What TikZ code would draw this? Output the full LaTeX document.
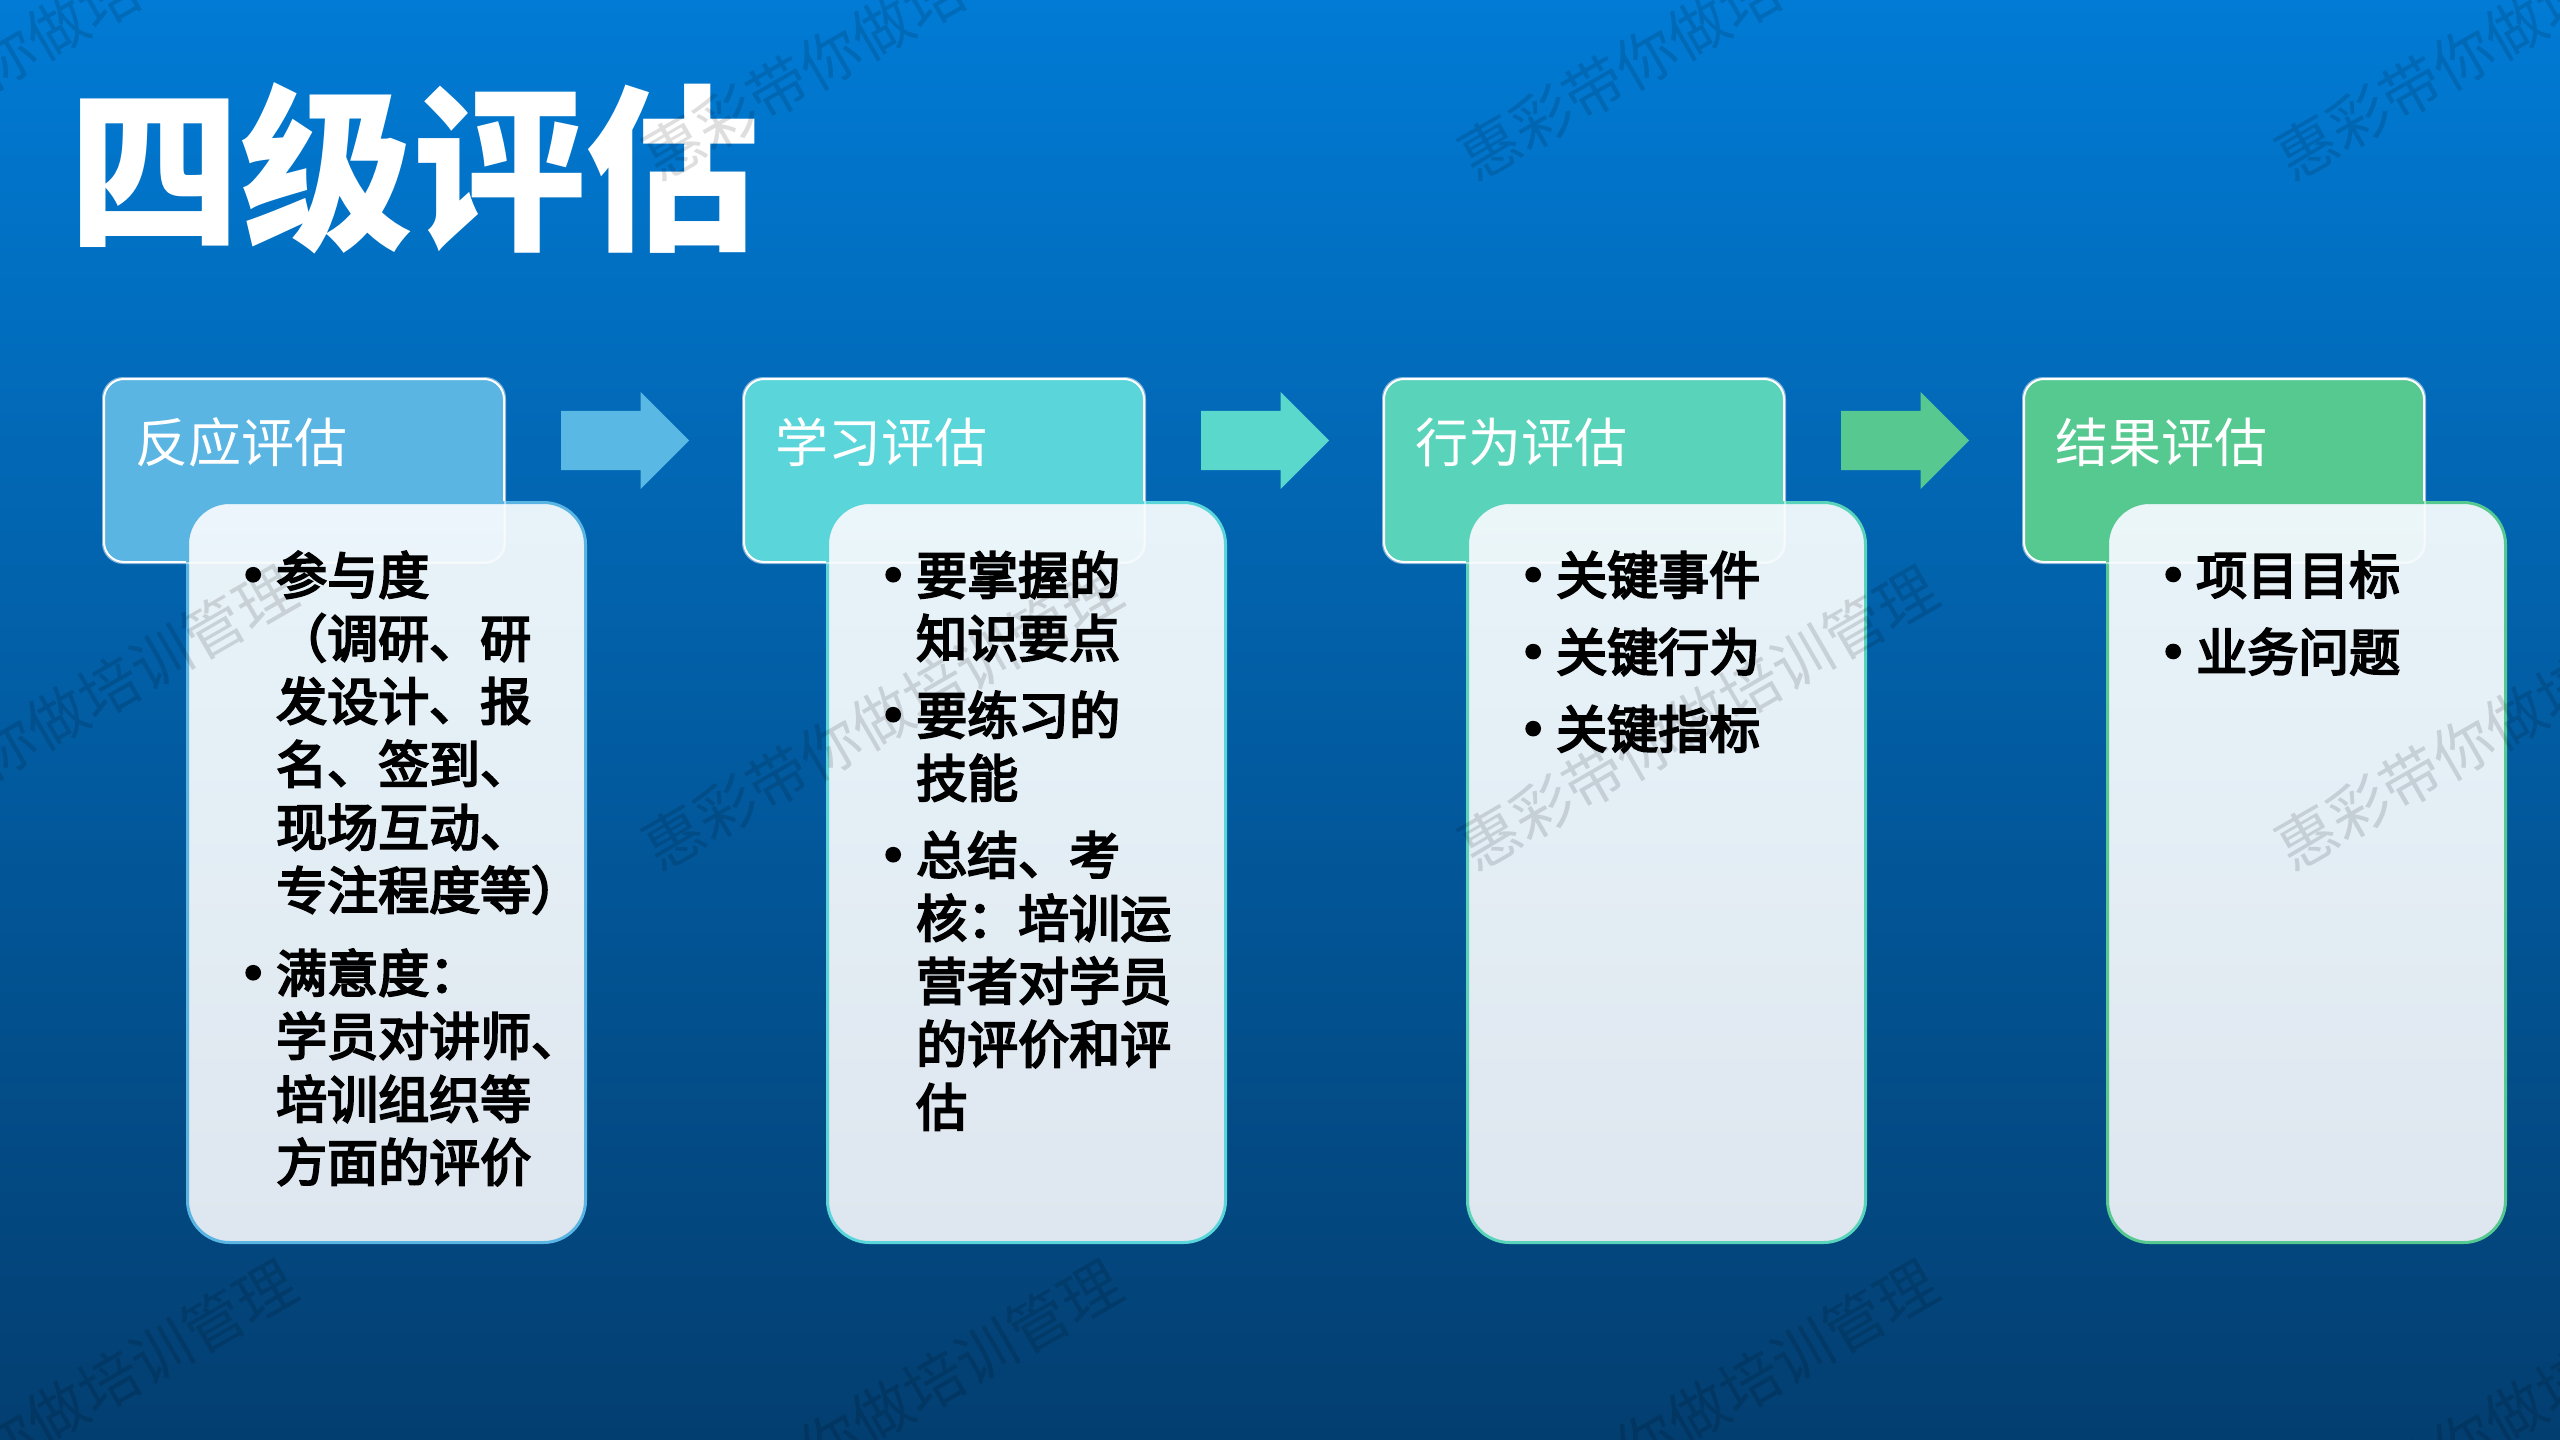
\documentclass[tikz,border=0pt]{standalone}
\usepackage{fontspec}
\setmainfont{Noto Sans CJK SC}
\newfontfamily\midfont{Noto Sans CJK SC}[FakeBold=4]
\usetikzlibrary{shapes.arrows,calc,positioning}

\definecolor{bgtop}{HTML}{017BD5}
\definecolor{bgmid}{HTML}{0266B1}
\definecolor{bgbot}{HTML}{033E70}
\definecolor{lvlA}{HTML}{5AB5E3}
\definecolor{lvlB}{HTML}{5AD5DA}
\definecolor{lvlC}{HTML}{5AD3BB}
\definecolor{lvlD}{HTML}{56C991}
\definecolor{arrA}{HTML}{5AB8E4}
\definecolor{arrB}{HTML}{5AD8CC}
\definecolor{arrC}{HTML}{57C990}
\definecolor{paneltop}{HTML}{F0F8FC}
\definecolor{panelbot}{HTML}{E6ECF3}

\newcommand\itm{\leavevmode\llap{\makebox[0pt][c]{\fontsize{62}{63}\selectfont\raisebox{-4pt}{•}}\hspace{23pt}}}

\tikzset{
  head/.style={draw=white, line width=2pt, rounded corners=20pt, minimum width=400pt,
    minimum height=183pt, anchor=north west, inner sep=0pt},
  panel/.style={draw=#1, line width=3pt, rounded corners=42pt, minimum width=398pt,
    minimum height=740pt, anchor=north west, inner sep=0pt,
    top color=paneltop, bottom color=panelbot, fill opacity=0.97},
  headtxt/.style={text=white, font=\fontsize{53}{60}\selectfont, anchor=west, inner sep=0pt},
  bodytxt/.style={font=\midfont\fontsize{51}{63}\selectfont, align=left, anchor=north west, inner sep=0pt},
  blockarrow/.style={single arrow, single arrow head extend=19pt, single arrow tip angle=90,
    minimum height=128pt, minimum width=0pt, inner xsep=0pt, inner ysep=29.5pt, draw=none, anchor=tail},
  wmark/.style={rotate=30, text=black, opacity=0.13, font=\fontsize{60}{60}\selectfont}
}

\begin{document}
\begin{tikzpicture}[x=1pt,y=-1pt]
    \useasboundingbox (0,0) rectangle (2560,1440);
    \shade[top color=bgtop, middle color=bgmid, bottom color=bgbot] (0,0) rectangle (2560,1440);

    % title
    \node[text=white, font=\bfseries\fontsize{178}{180}\selectfont, xscale=0.97, anchor=west, inner sep=0pt] (ttl) at (68,168) {四级评估};

    % header boxes
    \node[head, fill=lvlA] (h1) at (103,378) {};
    \node[head, fill=lvlB] (h2) at (743,378) {};
    \node[head, fill=lvlC] (h3) at (1383,378) {};
    \node[head, fill=lvlD] (h4) at (2023,378) {};

    % panels
    \node[panel=lvlA] (b1) at ($(h1.north west)+(83,123)$) {};
    \node[panel=lvlB] (b2) at ($(h2.north west)+(83,123)$) {};
    \node[panel=lvlC] (b3) at ($(h3.north west)+(83,123)$) {};
    \node[panel=lvlD] (b4) at ($(h4.north west)+(83,123)$) {};
    \foreach \h in {h1,h2,h3,h4}
        \draw[white, line width=2pt, rounded corners=20pt, opacity=0.5] (\h.north west) rectangle (\h.south east);

    \node[headtxt] (t1) at ($(h1.north west)+(32,64)$) {反应评估};
    \node[headtxt] (t2) at ($(h2.north west)+(32,64)$) {学习评估};
    \node[headtxt] (t3) at ($(h3.north west)+(32,64)$) {行为评估};
    \node[headtxt] (t4) at ($(h4.north west)+(32,64)$) {结果评估};

    % block arrows
    \node[blockarrow, fill=arrA] (a1) at ($(h1.east)+(56,-30)$) {};
    \node[blockarrow, fill=arrB] (a2) at ($(h2.east)+(56,-30)$) {};
    \node[blockarrow, fill=arrC] (a3) at ($(h3.east)+(56,-30)$) {};

    % panel texts
    \node[bodytxt] (p1) at ($(b1.north west)+(90,50)$) {\itm 参与度\\（调研、研\\发设计、报\\名、签到、\\现场互动、\\专注程度等）\\[20pt]\itm 满意度：\\学员对讲师、\\培训组织等\\方面的评价};
    \node[bodytxt] (p2) at ($(b2.north west)+(90,50)$) {\itm 要掌握的\\知识要点\\[14pt]\itm 要练习的\\技能\\[14pt]\itm 总结、考\\核：培训运\\营者对学员\\的评价和评\\估};
    \node[bodytxt] (p3) at ($(b3.north west)+(90,50)$) {\itm 关键事件\\[14pt]\itm 关键行为\\[14pt]\itm 关键指标};
    \node[bodytxt] (p4) at ($(b4.north west)+(90,50)$) {\itm 项目目标\\[14pt]\itm 业务问题};

    % watermark
    \foreach \wx in {57,882,1698,2515}
        \foreach \wy in {28,718,1412}
            \node[wmark] at (\wx,\wy) {惠彩带你做培训管理};
\end{tikzpicture}
\end{document}
